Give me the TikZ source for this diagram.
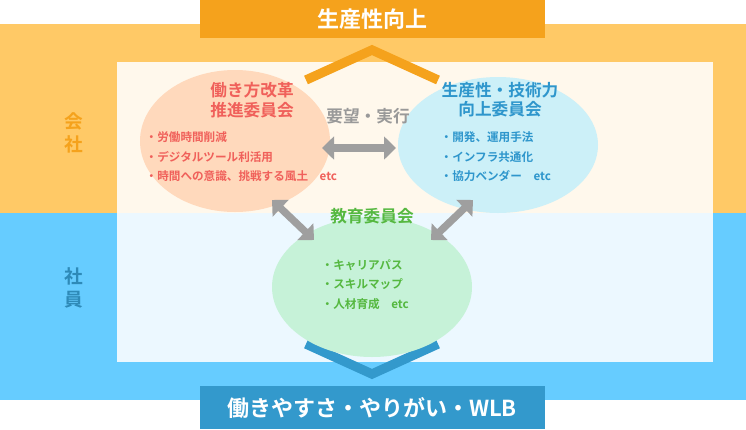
\documentclass[tikz,border=0pt]{standalone}
\usepackage{fontspec}
\setmainfont{Noto Sans CJK JP}[BoldFont={Noto Sans CJK JP Bold}]
\usetikzlibrary{arrows.meta, positioning, calc}
\definecolor{bandO}{HTML}{FFC966}
\definecolor{bandB}{HTML}{66CCFF}
\definecolor{titleO}{HTML}{F5A21C}
\definecolor{titleB}{HTML}{3399CC}
\definecolor{redT}{HTML}{F0605A}
\definecolor{blueT}{HTML}{2E96CC}
\definecolor{greenT}{HTML}{55B840}
\definecolor{peach}{HTML}{FFD9BC}
\definecolor{skyE}{HTML}{CCF0F8}
\definecolor{mint}{HTML}{C6F2D8}
\tikzset{
  title/.style={font=\bfseries\fontsize{16.5}{18}\selectfont, text=white},
  head/.style={font=\bfseries\fontsize{12.5}{14.5}\selectfont, align=center},
  item/.style={font=\bfseries\fontsize{8.7}{14.6}\selectfont, align=left, anchor=north west},
  both/.style={{Triangle[width=17pt,length=9pt]}-{Triangle[width=17pt,length=9pt]}, line width=5.5pt, draw=gray!75},
  chev/.style={line width=7pt}
}
\begin{document}
\begin{tikzpicture}[x=0.75pt, y=-0.75pt]
\useasboundingbox (0,0) rectangle (746,429);
% bands
\fill[bandO] (0,24) rectangle (746,213);
\fill[bandB] (0,213) rectangle (746,400);
\fill[white, opacity=0.88] (117,62) rectangle (713,362);
% titles
\fill[titleO] (200,0) rectangle (545,38);
\node[title] (top) at (372,19) {生産性向上};
\fill[titleB] (200,386) rectangle (545,429);
\node[title] (bottom) at (372,408) {働きやすさ・やりがい・WLB};
\node[font=\bfseries\fontsize{14}{17}\selectfont, text=titleO, align=center] (company) at (74,133) {会\\社};
\node[font=\bfseries\fontsize{14}{17}\selectfont, text=titleB!90!black, align=center] (staff) at (74,288) {社\\員};
% chevrons
\draw[chev, titleO] (306,80) -- (372,50) -- (438,80);
\draw[chev, titleB] (306,344) -- (372,374) -- (438,344);
% committees
\fill[peach] (235,141) ellipse (95 and 71);
\fill[skyE] (498,145) ellipse (100 and 68);
\fill[mint] (372,287) ellipse (100 and 70);
\node[head, text=redT] (reform) at (252,100) {働き方改革\\推進委員会};
\node[item, text=redT] (reformL) at (141,127) {・労働時間削減\\・デジタルツール利活用\\・時間への意識、挑戦する風土\quad etc};
\node[head, text=blueT] (tech) at (500,100) {生産性・技術力\\向上委員会};
\node[item, text=blueT] (techL) at (436,127) {・開発、運用手法\\・インフラ共通化\\・協力ベンダー\quad etc};
\node[head, text=greenT] (edu) at (372,216) {教育委員会};
\node[item, text=greenT] (eduL) at (317,255) {・キャリアパス\\・スキルマップ\\・人材育成\quad etc};
\node[head, text=gray!80] (req) at (368,116) {要望・実行};
% arrows
\coordinate (h1) at (322,148); \coordinate (h2) at (396,148);
\coordinate (l1) at (272,200); \coordinate (l2) at (314,240);
\coordinate (r1) at (473,200); \coordinate (r2) at (431,240);
\draw[both] (h1) -- (h2);
\draw[both] (l1) -- (l2);
\draw[both] (r1) -- (r2);
\end{tikzpicture}
\end{document}
